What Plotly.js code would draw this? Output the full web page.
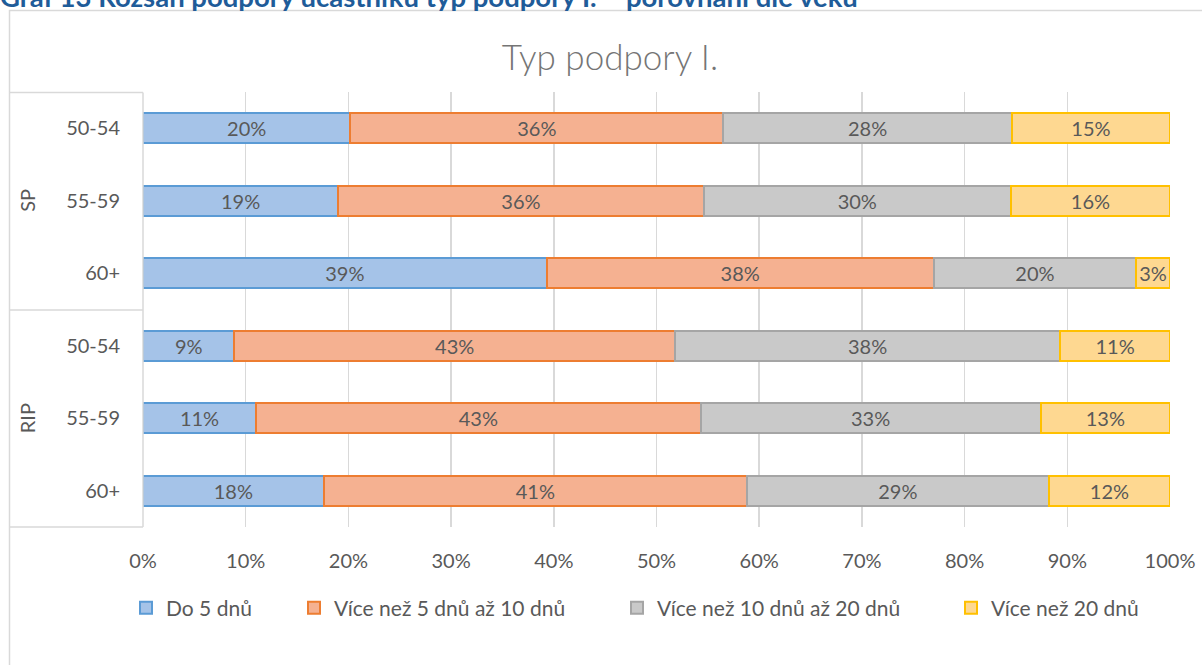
<!DOCTYPE html>
<html>
<head>
<meta charset="utf-8">
<script src="https://cdn.plot.ly/plotly-3.0.1.min.js"></script>
<style>html,body{margin:0;padding:0;background:#fff;}#chart{width:1202px;height:665px;}</style>
</head>
<body>
<div id="chart"></div>
<script>
// ---- data ----
const groups = ['SP', 'SP', 'SP', 'RIP', 'RIP', 'RIP'];
const ages = ['50-54', '55-59', '60+', '50-54', '55-59', '60+'];
const seriesNames = ['Do 5 dnů', 'Více než 5 dnů až 10 dnů', 'Více než 10 dnů až 20 dnů', 'Více než 20 dnů'];
const do5 = [0.202, 0.190, 0.393, 0.089, 0.110, 0.176];
const d5to10 = [0.363, 0.356, 0.377, 0.429, 0.433, 0.412];
const d10to20 = [0.281, 0.299, 0.197, 0.375, 0.331, 0.294];
const over20 = [0.154, 0.155, 0.033, 0.107, 0.126, 0.118];
const xTicks = [0, 0.1, 0.2, 0.3, 0.4, 0.5, 0.6, 0.7, 0.8, 0.9, 1.0];
const chartTitle = 'Typ podpory I.';
const captionText = 'Graf 13 Rozsah podpory účastníků typ podpory I. – porovnání dle věku';

// ---- styles ----
const fills = ['#a5c3e8', '#f5b191', '#c9c9c9', '#fed891'];
const borders = ['#5b9bd5', '#ed7d31', '#a5a5a5', '#ffc000'];
const textGray = '#595959';
const FONT = 'Lato, "Open Sans", sans-serif';

const W = 1202, H = 665;
const mL = 143, mR = 32, mT = 92, mB = 138;
const pw = W - mL - mR, ph = H - mT - mB;
const px = x => (x - mL) / pw;
const py = y => 1 - (y - mT) / ph;

const keys = groups.map((g, i) => g + '|' + ages[i]);
const values = [do5, d5to10, d10to20, over20];
const legendIds = ['legend', 'legend2', 'legend3', 'legend4'];
const legendLeft = [126, 294, 617, 951];

const traces = values.map((v, s) => ({
  type: 'bar',
  orientation: 'h',
  name: seriesNames[s],
  legend: legendIds[s],
  y: keys,
  x: v,
  marker: { color: fills[s], line: { color: borders[s], width: 2 } },
  texttemplate: '%{x:.0%}',
  textposition: 'inside',
  insidetextanchor: 'middle',
  textangle: 0,
  insidetextfont: { family: FONT, size: 20, color: textGray },
  hoverinfo: 'skip'
}));

const lineStyle = { color: '#d9d9d9', width: 1.5 };
const shapes = [
  { type: 'rect', xref: 'paper', yref: 'paper', x0: px(9.5), x1: px(1230), y0: py(10.5), y1: py(700), line: { color: '#d9d9d9', width: 1.5 } },
  { type: 'line', xref: 'paper', yref: 'paper', x0: px(9.5), x1: px(143), y0: py(92.5), y1: py(92.5), line: lineStyle },
  { type: 'line', xref: 'paper', yref: 'paper', x0: px(9.5), x1: px(143), y0: py(310), y1: py(310), line: lineStyle },
  { type: 'line', xref: 'paper', yref: 'paper', x0: px(9.5), x1: px(143), y0: py(527), y1: py(527), line: lineStyle },
  { type: 'line', xref: 'paper', yref: 'paper', x0: px(143), x1: px(143), y0: py(92.5), y1: py(527), line: lineStyle }
];

const groupNames = [...new Set(groups)];
const annotations = groupNames.map(g => {
  const idx = groups.map((gg, i) => gg === g ? i : -1).filter(i => i >= 0);
  const mid = keys[idx[Math.floor(idx.length / 2)]];
  return {
    xref: 'paper', yref: 'y', x: px(27), y: mid, text: g, showarrow: false,
    textangle: -90, xanchor: 'center', yanchor: 'middle',
    font: { family: FONT, size: 20, color: textGray }
  };
});
annotations.push({
  xref: 'paper', yref: 'paper', x: px(-2), y: py(-3), xanchor: 'left', yanchor: 'middle',
  text: '<b>' + captionText + '</b>', showarrow: false,
  font: { family: FONT, size: 27.5, color: '#1f5c99' }
});

const layout = {
  width: W, height: H,
  margin: { l: mL, r: mR, t: mT, b: mB, pad: 0 },
  paper_bgcolor: '#ffffff', plot_bgcolor: '#ffffff',
  barmode: 'stack',
  bargap: 0.585,
  title: {
    text: chartTitle, xref: 'container', yref: 'container',
    x: 610 / W, y: 1 - 58 / H, xanchor: 'center', yanchor: 'middle',
    font: { family: FONT, size: 35, color: '#757575', weight: 300 }
  },
  xaxis: {
    range: [0, 1], tickvals: xTicks, tickformat: '.0%',
    showgrid: true, gridcolor: '#d9d9d9', gridwidth: 1.5,
    zeroline: false, showline: false, ticks: '',
    ticklabelstandoff: 20,
    tickfont: { family: FONT, size: 20, color: textGray },
    fixedrange: true
  },
  yaxis: {
    type: 'category', autorange: 'reversed',
    tickvals: keys, ticktext: ages,
    showgrid: false, zeroline: false, showline: false, ticks: '',
    ticklabelstandoff: 22,
    tickfont: { family: FONT, size: 20, color: textGray },
    fixedrange: true
  },
  showlegend: true,
  shapes: shapes,
  annotations: annotations
};
legendIds.forEach((id, i) => {
  layout[id] = {
    orientation: 'h', x: px(legendLeft[i]), xanchor: 'left', y: py(608), yanchor: 'middle',
    font: { family: FONT, size: 21, color: textGray },
    itemwidth: 30, bgcolor: 'rgba(0,0,0,0)'
  };
});

Plotly.newPlot('chart', traces, layout, { staticPlot: true, displayModeBar: false });
</script>
</body>
</html>
